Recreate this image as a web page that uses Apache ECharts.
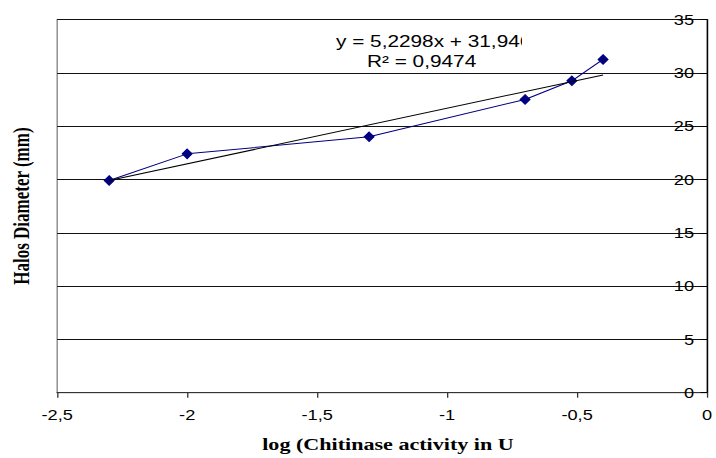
<!DOCTYPE html>
<html>
<head>
<meta charset="utf-8">
<script src="https://cdn.jsdelivr.net/npm/echarts@6/dist/echarts.min.js"></script>
<style>
  html, body { margin: 0; padding: 0; background: #fff; overflow: hidden; }
  #wrap { width: 716px; height: 458px; overflow: hidden; position: relative; }
  #chart { width: 551px; height: 458px; transform-origin: 0 0; }
</style>
</head>
<body>
<div id="wrap"><div id="chart"></div></div>
<script>
// ---- data ----
const xValues = [-2.3, -2.0, -1.3, -0.7, -0.52, -0.4];
const yValues = [19.9, 22.4, 24.0, 27.5, 29.25, 31.25];
const trendX = [-2.3, -0.4];
const trendY = [19.9, 29.8];
const xTicks = [-2.5, -2, -1.5, -1, -0.5, 0];
const yTicks = [0, 5, 10, 15, 20, 25, 30, 35];
const xTitle = 'log (Chitinase activity in U';
const yTitle = 'Halos Diameter (mm)';
const eqLine1 = 'y = 5,2298x + 31,946';
const eqLine2 = 'R\u00B2 = 0,9474';

// the reference is horizontally stretched; draw at a narrower width and stretch the same way
const W = 551, H = 458, S = 716 / W;
const el = document.getElementById('chart');
el.style.transform = 'scaleX(' + S + ')';

const chart = echarts.init(el, null, { renderer: 'svg', width: W, height: H });
const sans = "'Liberation Sans', Arial, sans-serif";
const serif = "'Liberation Serif', 'Times New Roman', serif";

chart.setOption({
  animation: false,
  backgroundColor: '#fff',
  grid: {
    left: 55.5 / S, right: W - 714 / S, top: 19.5, bottom: 65.3,
    show: true, borderColor: '#808080', borderWidth: 1, backgroundColor: 'transparent'
  },
  xAxis: {
    type: 'value',
    min: xTicks[0], max: xTicks[xTicks.length - 1], interval: 0.5,
    name: xTitle, nameLocation: 'middle', nameGap: 43,
    nameTextStyle: { fontFamily: serif, fontWeight: 'bold', fontSize: 17, color: '#000', padding: [0, 0, 0, 9] },
    axisLine: { show: true, onZero: false, lineStyle: { color: '#333', width: 1 } },
    axisTick: { show: true, inside: false, length: 5, lineStyle: { color: '#333' } },
    axisLabel: { color: '#000', fontFamily: sans, fontSize: 14, margin: 15,
      formatter: v => String(v).replace('.', ',') },
    splitLine: { show: false }
  },
  yAxis: [{
    type: 'value', position: 'right',
    min: yTicks[0], max: yTicks[yTicks.length - 1], interval: 5,
    axisLine: { show: true, onZero: false, lineStyle: { color: '#000', width: 1 } },
    axisTick: { show: true, inside: true, length: 5, lineStyle: { color: '#000' } },
    axisLabel: { inside: true, margin: 10, color: '#000', fontFamily: sans, fontSize: 14 },
    splitLine: { show: true, lineStyle: { color: '#111', width: 1 } }
  }, {
    type: 'value', position: 'left',
    min: yTicks[0], max: yTicks[yTicks.length - 1], interval: 5,
    name: yTitle, nameLocation: 'middle', nameGap: 19,
    nameTextStyle: { fontFamily: serif, fontWeight: 'bold', fontSize: 17, color: '#000' },
    axisLine: { show: false }, axisTick: { show: false }, axisLabel: { show: false },
    splitLine: { show: false }
  }],
  series: [{
    type: 'line',
    data: xValues.map((x, i) => [x, yValues[i]]),
    yAxisIndex: 0,
    symbol: 'diamond', symbolSize: [7.5, 9.5], showSymbol: true,
    itemStyle: { color: '#000080', borderColor: '#000080', borderWidth: 1 },
    lineStyle: { color: '#000080', width: 1 },
    z: 2
  }, {
    type: 'line',
    data: trendX.map((x, i) => [x, trendY[i]]),
    yAxisIndex: 0,
    symbol: 'none',
    lineStyle: { color: '#000', width: 1 },
    z: 3
  }],
  graphic: [
    { type: 'text', left: 336 / S, top: 33, z: 10,
      style: { text: eqLine1, fontFamily: sans, fontSize: 16, fill: '#000' } },
    { type: 'rect', shape: { x: 522 / S, y: 30, width: 14, height: 22 }, z: 11,
      style: { fill: '#fff' } },
    { type: 'text', left: 367 / S, top: 53, z: 10,
      style: { text: eqLine2, fontFamily: sans, fontSize: 16, fill: '#000' } }
  ]
});
</script>
</body>
</html>
